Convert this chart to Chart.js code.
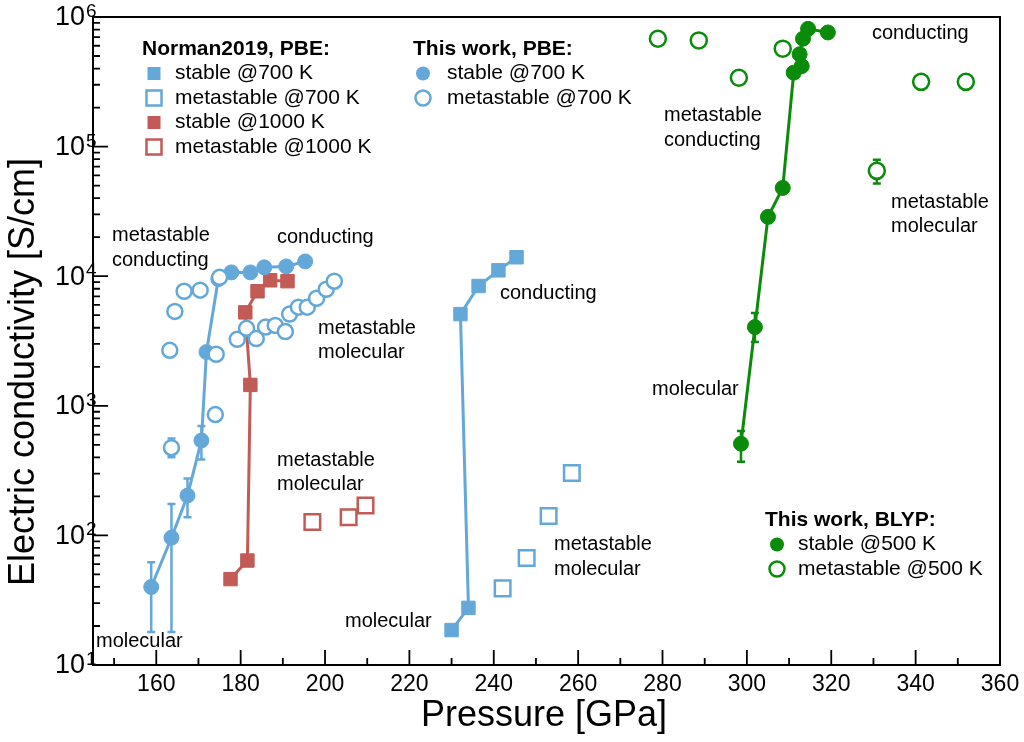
<!DOCTYPE html>
<html>
<head>
<meta charset="utf-8">
<script src="https://cdn.jsdelivr.net/npm/chart.js@4.4.0/dist/chart.umd.min.js"></script>
<style>
  html, body { margin: 0; padding: 0; background: #fff; }
  #wrap { width: 1024px; height: 742px; }
</style>
</head>
<body>
<div id="wrap"><canvas id="c"></canvas></div>
<script>
// pressure in GPa, conductivity in S/cm
// This work, PBE @700 K
const pbeStableP = [158.8, 163.6, 167.4, 170.7, 171.9, 174.7, 177.8, 182.3, 185.6, 190.8, 195.3];
const pbeStableS = [40, 96, 203, 540, 2600, 9500, 10700, 10700, 11700, 11900, 13000];
const pbeStableLo = [18, 18, 138, 385, null, null, null, null, null, null, null];
const pbeStableHi = [62, 175, 275, 700, null, null, null, null, null, null, null];

const pbeMetaP = [163.2, 164.4, 166.6, 170.4, 175.0, 174.2, 174.0, 163.6, 179.2, 181.4, 183.7,
                  185.9, 188.2, 190.6, 191.6, 193.7, 195.8, 198.0, 200.3, 202.2];
const pbeMetaS = [2680, 5350, 7650, 7800, 9800, 2500, 855, 475, 3260, 3960, 3300,
                  4050, 4170, 3740, 5100, 5770, 5770, 6760, 7930, 9150];
const pbeMetaLo = [null, null, null, null, null, null, null, 400, null, null, 3050,
                   null, null, 3450, null, null, null, null, null, null];
const pbeMetaHi = [null, null, null, null, null, null, null, 560, null, null, 3550,
                   null, null, 4050, null, null, null, null, null, null];

// Norman2019, PBE
const n700StableP = [230.0, 234.0, 232.1, 236.4, 241.1, 245.4];
const n700StableS = [18.6, 27.6, 5100, 8400, 11100, 14000];
const n700MetaP = [242.1, 247.8, 253.0, 258.5];
const n700MetaS = [39, 67, 141, 303];
const n1000StableP = [177.6, 181.6, 182.3, 181.1, 184.0, 187.0, 191.1];
const n1000StableS = [46, 64, 1450, 5260, 7650, 9300, 9150];
const n1000MetaP = [197.0, 205.6, 209.6];
const n1000MetaS = [127, 138, 170];

// This work, BLYP @500 K
const blypStableP = [298.6, 301.9, 305.0, 308.5, 311.1, 313.0, 312.5, 313.3, 314.5, 319.2];
const blypStableS = [510, 4050, 28700, 48000, 372000, 418000, 516000, 680000, 810000, 760000];
const blypStableLo = [370, 3100, null, null, null, null, null, null, null, null];
const blypStableHi = [640, 5200, null, null, null, null, null, null, null, null];
const blypMetaP = [278.9, 288.6, 298.1, 308.5, 330.8, 341.3, 351.9];
const blypMetaS = [680000, 660000, 340000, 570000, 65000, 316000, 316000];
const blypMetaLo = [null, null, null, null, 52000, null, null];
const blypMetaHi = [null, null, null, null, 79000, null, null];

const xMajor = [160, 180, 200, 220, 240, 260, 280, 300, 320, 340, 360];
const yMajor = [1, 2, 3, 4, 5, 6]; // exponents

const BLUE = '#64a8d9', RED = '#c25a55', GREEN = '#0a8c0a';
const FONT = '"Liberation Sans", Arial, Helvetica, sans-serif';

const pts = (xs, ys) => xs.map((x, i) => ({x, y: ys[i]}));

function filled(label, xs, ys, color, style, r, line, order) {
  return {label, data: pts(xs, ys), showLine: line, borderColor: color, backgroundColor: color,
    borderWidth: 3, pointStyle: style, pointRadius: r, pointBackgroundColor: color,
    pointBorderColor: color, pointBorderWidth: 1, order};
}
function hollow(label, xs, ys, color, style, r, order) {
  return {label, data: pts(xs, ys), showLine: false, borderColor: color, backgroundColor: '#fff',
    pointStyle: style, pointRadius: r, pointBackgroundColor: '#fff',
    pointBorderColor: color, pointBorderWidth: 2.5, order};
}

const errSets = [
  [pbeStableP, pbeStableLo, pbeStableHi, BLUE],
  [pbeMetaP, pbeMetaLo, pbeMetaHi, BLUE],
  [blypStableP, blypStableLo, blypStableHi, GREEN],
  [blypMetaP, blypMetaLo, blypMetaHi, GREEN]
];

const notes = [
  ['metastable', 112, 235], ['conducting', 112, 260],
  ['conducting', 277, 237],
  ['metastable', 318, 328], ['molecular', 318, 352],
  ['metastable', 277, 460], ['molecular', 277, 484],
  ['molecular', 96, 641],
  ['conducting', 500, 293],
  ['metastable', 554, 544], ['molecular', 554, 569],
  ['molecular', 345, 621],
  ['metastable', 664, 115], ['conducting', 664, 140],
  ['conducting', 872, 33],
  ['metastable', 891, 202], ['molecular', 891, 226],
  ['molecular', 652, 389]
];

const legends = [
  {title: 'Norman2019, PBE:', x: 142, y: 49, mx: 154, tx: 175, items: [
    ['stable @700 K', BLUE, 'rect', true], ['metastable @700 K', BLUE, 'rect', false],
    ['stable @1000 K', RED, 'rect', true], ['metastable @1000 K', RED, 'rect', false]]},
  {title: 'This work, PBE:', x: 413, y: 49, mx: 423, tx: 447, items: [
    ['stable @700 K', BLUE, 'circle', true], ['metastable @700 K', BLUE, 'circle', false]]},
  {title: 'This work, BLYP:', x: 765, y: 520, mx: 777, tx: 798, items: [
    ['stable @500 K', GREEN, 'circle', true], ['metastable @500 K', GREEN, 'circle', false]]}
];

function marker(ctx, x, y, style, color, solid) {
  ctx.save();
  ctx.beginPath();
  if (style === 'rect') {
    const h = solid ? 6.5 : 7.5;
    ctx.rect(x - h, y - h, 2 * h, 2 * h);
  } else {
    ctx.arc(x, y, solid ? 7 : 7.5, 0, Math.PI * 2);
  }
  ctx.fillStyle = solid ? color : '#fff';
  ctx.fill();
  ctx.lineWidth = 2.5;
  ctx.strokeStyle = color;
  if (!solid) ctx.stroke();
  ctx.restore();
}

const decor = {
  id: 'decor',
  beforeDatasetsDraw(chart) {
    const {ctx, scales: {x, y}} = chart;
    ctx.save();
    ctx.lineWidth = 2.5;
    errSets.forEach(([xs, lo, hi, color]) => {
      ctx.strokeStyle = color;
      xs.forEach((p, i) => {
        if (lo[i] == null) return;
        const px = x.getPixelForValue(p);
        const y1 = y.getPixelForValue(lo[i]), y2 = y.getPixelForValue(hi[i]);
        ctx.beginPath();
        ctx.moveTo(px, y1); ctx.lineTo(px, y2);
        ctx.moveTo(px - 4, y1); ctx.lineTo(px + 4, y1);
        ctx.moveTo(px - 4, y2); ctx.lineTo(px + 4, y2);
        ctx.stroke();
      });
    });
    ctx.restore();
  },
  afterDraw(chart) {
    const {ctx, chartArea: a, scales: {x, y}} = chart;
    ctx.save();
    // frame
    ctx.strokeStyle = '#000';
    ctx.lineWidth = 2;
    ctx.strokeRect(a.left, a.top, a.right - a.left, a.bottom - a.top);
    ctx.lineWidth = 1.8;
    ctx.beginPath();
    for (let v = 150; v <= 360; v += 10) {
      const px = x.getPixelForValue(v);
      const len = v % 20 === 0 ? 15 : 7;
      ctx.moveTo(px, a.bottom); ctx.lineTo(px, a.bottom - len);
    }
    for (let e = 1; e <= 6; e++) {
      for (let m = 1; m <= 9; m++) {
        const v = m * Math.pow(10, e);
        if (v > 1e6) break;
        const py = y.getPixelForValue(v);
        const len = m === 1 ? 15 : 7;
        ctx.moveTo(a.left, py); ctx.lineTo(a.left + len, py);
      }
    }
    ctx.stroke();

    // tick labels
    ctx.fillStyle = '#000';
    ctx.font = '23px ' + FONT;
    ctx.textAlign = 'center';
    ctx.textBaseline = 'middle';
    xMajor.forEach(v => ctx.fillText(String(v), x.getPixelForValue(v), 685));
    yMajor.forEach(e => {
      const py = y.getPixelForValue(Math.pow(10, e));
      ctx.font = '27px ' + FONT;
      ctx.textAlign = 'right';
      ctx.textBaseline = 'middle';
      ctx.fillText('10', 85, py + 1);
      ctx.font = '19px ' + FONT;
      ctx.textAlign = 'left';
      ctx.textBaseline = 'alphabetic';
      ctx.fillText(String(e), 86, py);
    });

    // axis titles
    ctx.font = '36px ' + FONT;
    ctx.textAlign = 'center';
    ctx.textBaseline = 'middle';
    ctx.fillText('Pressure [GPa]', 544, 716);
    ctx.save();
    ctx.translate(24, 372);
    ctx.rotate(-Math.PI / 2);
    ctx.fillText('Electric conductivity [S/cm]', 0, 0);
    ctx.restore();

    // annotations
    ctx.font = '20px ' + FONT;
    ctx.textAlign = 'left';
    notes.forEach(([t, nx, ny]) => ctx.fillText(t, nx, ny));

    // legends
    legends.forEach(g => {
      ctx.font = 'bold 21px ' + FONT;
      ctx.fillStyle = '#000';
      ctx.fillText(g.title, g.x, g.y);
      ctx.font = '21px ' + FONT;
      g.items.forEach(([t, color, style, solid], i) => {
        const ly = g.y + 24.5 * (i + 1);
        marker(ctx, g.mx, ly, style, color, solid);
        ctx.fillStyle = '#000';
        ctx.fillText(t, g.tx, ly);
      });
    });
    ctx.restore();
  }
};

new Chart(document.getElementById('c'), {
  type: 'scatter',
  data: {
    datasets: [
      filled('This work PBE stable 700 K', pbeStableP, pbeStableS, BLUE, 'circle', 7.5, true, 2),
      hollow('This work PBE metastable 700 K', pbeMetaP, pbeMetaS, BLUE, 'circle', 7.5, 1),
      filled('BLYP stable 500 K', blypStableP, blypStableS, GREEN, 'circle', 7.5, true, 3),
      hollow('BLYP metastable 500 K', blypMetaP, blypMetaS, GREEN, 'circle', 8, 4),
      filled('Norman stable 1000 K', n1000StableP, n1000StableS, RED, 'rect', 9.5, true, 6),
      hollow('Norman metastable 1000 K', n1000MetaP, n1000MetaS, RED, 'rect', 11, 5),
      filled('Norman stable 700 K', n700StableP, n700StableS, BLUE, 'rect', 9.5, true, 8),
      hollow('Norman metastable 700 K', n700MetaP, n700MetaS, BLUE, 'rect', 11, 7)
    ]
  },
  options: {
    responsive: true,
    maintainAspectRatio: false,
    animation: false,
    events: [],
    layout: { padding: { left: 0, right: 24, top: 17, bottom: 0 } },
    plugins: { legend: { display: false }, tooltip: { enabled: false } },
    scales: {
      x: {
        type: 'linear', min: 145, max: 360,
        grid: { display: false }, border: { display: false },
        ticks: { display: false },
        afterFit: s => { s.height = 77; }
      },
      y: {
        type: 'logarithmic', min: 10, max: 1e6,
        grid: { display: false }, border: { display: false },
        ticks: { display: false },
        afterFit: s => { s.width = 93; }
      }
    }
  },
  plugins: [decor]
});
</script>
</body>
</html>
